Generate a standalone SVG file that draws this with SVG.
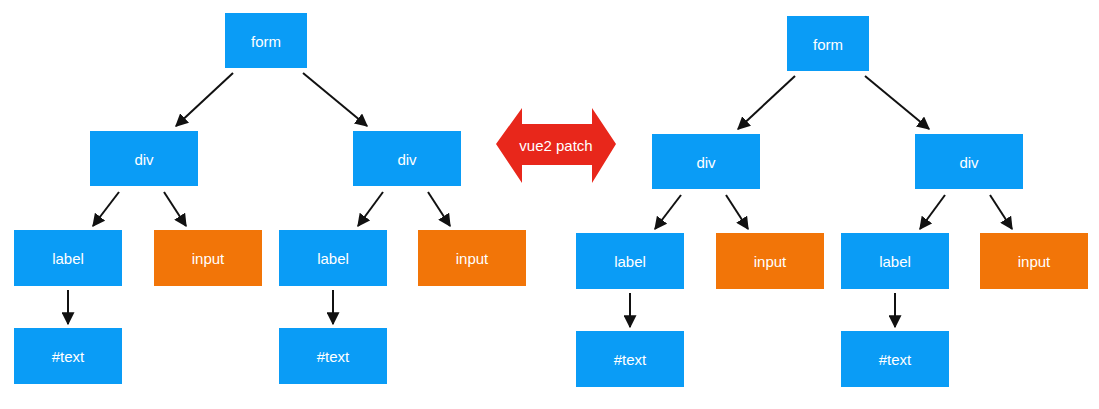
<svg xmlns="http://www.w3.org/2000/svg" width="1099" height="409" viewBox="0 0 1099 409">
<style>
.b{fill:#0a9cf6}
.o{fill:#f27508}
.t{font-family:"Liberation Sans",Arial,sans-serif;font-size:15px;fill:#fff;text-anchor:middle;dominant-baseline:central}
.e{stroke:#111;stroke-width:2;fill:none;marker-end:url(#ah)}
</style>
<defs>
<marker id="ah" viewBox="0 0 10 10" refX="9" refY="5" markerWidth="6.5" markerHeight="6.5" orient="auto" markerUnits="strokeWidth">
<path d="M0,0 L10,5 L0,10 z" fill="#111"/>
</marker>
</defs>
<g id="L-form"><rect class="b" x="225" y="13" width="82" height="55"/><text class="t" x="266" y="41">form</text></g>
<g id="L-div1"><rect class="b" x="90" y="131" width="108" height="55"/><text class="t" x="144" y="159">div</text></g>
<g id="L-div2"><rect class="b" x="353" y="131" width="108" height="55"/><text class="t" x="407" y="159">div</text></g>
<g id="L-label1"><rect class="b" x="14" y="230" width="108" height="56"/><text class="t" x="68" y="258">label</text></g>
<g id="L-input1"><rect class="o" x="154" y="230" width="108" height="56"/><text class="t" x="208" y="258">input</text></g>
<g id="L-text1"><rect class="b" x="14" y="328" width="108" height="56"/><text class="t" x="68" y="356">#text</text></g>
<g id="L-label2"><rect class="b" x="279" y="230" width="108" height="56"/><text class="t" x="333" y="258">label</text></g>
<g id="L-input2"><rect class="o" x="418" y="230" width="108" height="56"/><text class="t" x="472" y="258">input</text></g>
<g id="L-text2"><rect class="b" x="279" y="328" width="108" height="56"/><text class="t" x="333" y="356">#text</text></g>
<g id="R-form"><rect class="b" x="787" y="16" width="82" height="55"/><text class="t" x="828" y="44">form</text></g>
<g id="R-div1"><rect class="b" x="652" y="134" width="108" height="55"/><text class="t" x="706" y="162">div</text></g>
<g id="R-div2"><rect class="b" x="915" y="134" width="108" height="55"/><text class="t" x="969" y="162">div</text></g>
<g id="R-label1"><rect class="b" x="576" y="233" width="108" height="56"/><text class="t" x="630" y="261">label</text></g>
<g id="R-input1"><rect class="o" x="716" y="233" width="108" height="56"/><text class="t" x="770" y="261">input</text></g>
<g id="R-text1"><rect class="b" x="576" y="331" width="108" height="56"/><text class="t" x="630" y="359">#text</text></g>
<g id="R-label2"><rect class="b" x="841" y="233" width="108" height="56"/><text class="t" x="895" y="261">label</text></g>
<g id="R-input2"><rect class="o" x="980" y="233" width="108" height="56"/><text class="t" x="1034" y="261">input</text></g>
<g id="R-text2"><rect class="b" x="841" y="331" width="108" height="56"/><text class="t" x="895" y="359">#text</text></g>
<g id="connectors">
<line class="e" x1="233" y1="73" x2="176" y2="126"/>
<line class="e" x1="303" y1="73" x2="367" y2="126"/>
<line class="e" x1="119" y1="192" x2="93" y2="226"/>
<line class="e" x1="164" y1="192" x2="186" y2="226"/>
<line class="e" x1="68" y1="290" x2="68" y2="324"/>
<line class="e" x1="383" y1="192" x2="358" y2="226"/>
<line class="e" x1="428" y1="192" x2="450" y2="226"/>
<line class="e" x1="333" y1="290" x2="333" y2="324"/>
<line class="e" x1="795" y1="76" x2="738" y2="129"/>
<line class="e" x1="865" y1="76" x2="929" y2="129"/>
<line class="e" x1="681" y1="195" x2="655" y2="229"/>
<line class="e" x1="726" y1="195" x2="748" y2="229"/>
<line class="e" x1="630" y1="293" x2="630" y2="327"/>
<line class="e" x1="945" y1="195" x2="920" y2="229"/>
<line class="e" x1="990" y1="195" x2="1012" y2="229"/>
<line class="e" x1="895" y1="293" x2="895" y2="327"/>
</g>
<g id="patch">
<path d="M496,144 L522,108 L522,124 L592,124 L592,108 L616,144 L592,183 L592,165 L522,165 L522,183 Z" fill="#e8271b"/>
<text class="t" x="556" y="145">vue2 patch</text>
</g>
</svg>
